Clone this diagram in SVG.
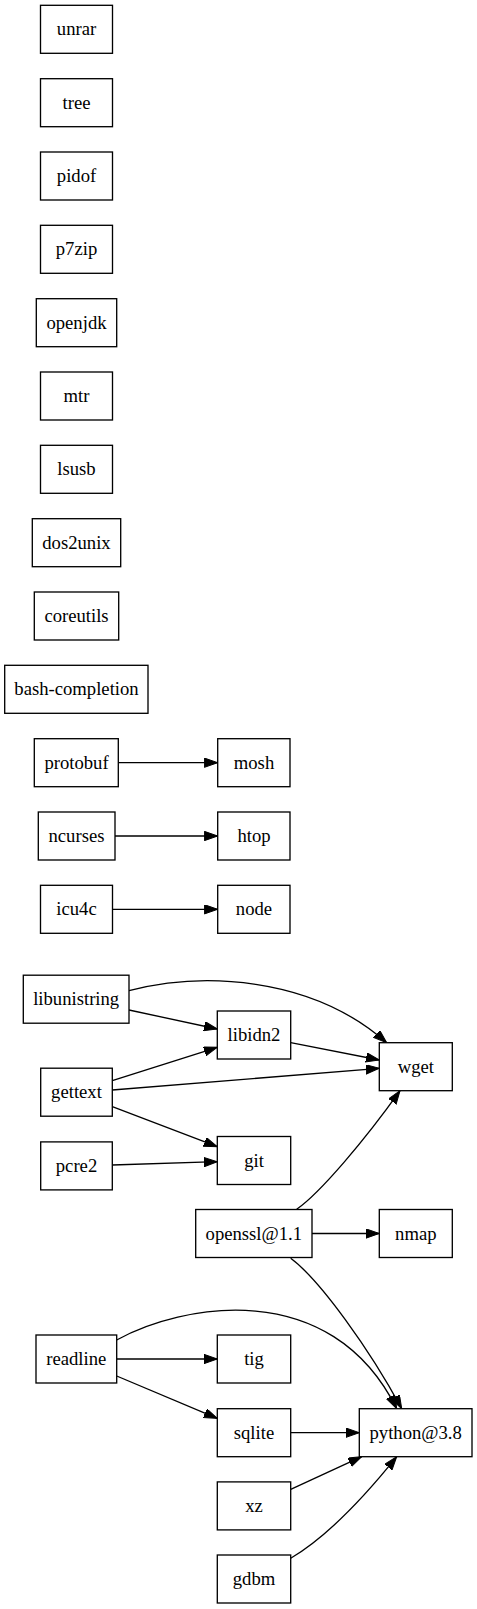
<svg xmlns="http://www.w3.org/2000/svg" width="477" height="1609" viewBox="0 0 477 1609">
<style>
.n rect{fill:#fff;stroke:#000;stroke-width:1.33}
.n text{font-family:'Liberation Serif','DejaVu Serif',serif;font-size:18.67px;text-anchor:middle;fill:#000}
#edges path{fill:none;stroke:#000;stroke-width:1.33;marker-end:url(#arr)}
</style>
<defs>
<marker id="arr" markerUnits="userSpaceOnUse" markerWidth="14" markerHeight="10" refX="13.33" refY="4.67" orient="auto">
<path d="M0,0 L13.33,4.67 L0,9.33 z" fill="#000" stroke="#000" stroke-width="1"/>
</marker>
</defs>
<rect width="477" height="1609" fill="#fff"/>
<g id="edges">
<path d="M118.3,762.7 L217.7,762.7"/>
<path d="M115,836 L217.7,836"/>
<path d="M112.3,909.3 L217.7,909.3"/>
<path d="M129,990.7 C200,972 310,975 386.7,1042.7"/>
<path d="M129,1010 L217.3,1029"/>
<path d="M290.7,1042.7 L379.3,1060"/>
<path d="M112.3,1080.7 L217.3,1047.3"/>
<path d="M112.3,1090 L379.3,1068.3"/>
<path d="M112.3,1106.7 L217.3,1146.7"/>
<path d="M112.3,1165 L217.3,1161.7"/>
<path d="M296.7,1209.3 C320,1193 365,1140 400,1090.7"/>
<path d="M312,1233.5 L379.3,1233.5"/>
<path d="M290.7,1258.3 C320,1280 370,1350 401.7,1408.7"/>
<path d="M116.7,1340 C180,1305 330,1275 396.7,1408.7"/>
<path d="M116.7,1359 L217.3,1359"/>
<path d="M116.7,1376 L217.3,1418.3"/>
<path d="M290.7,1432.7 L359.3,1432.7"/>
<path d="M290.7,1489.3 L361.7,1456.7"/>
<path d="M290.7,1558.3 C330,1535 370,1490 396.7,1456.7"/>
</g>
<g font-family="Liberation Serif, DejaVu Serif, serif">
<g id="unrar" class="n"><rect x="40.5" y="5.3" width="72" height="48"/><text x="76.5" y="35.3">unrar</text></g>
<g id="tree" class="n"><rect x="40.5" y="78.7" width="72" height="48"/><text x="76.5" y="108.7">tree</text></g>
<g id="pidof" class="n"><rect x="40.5" y="152" width="72" height="48"/><text x="76.5" y="182">pidof</text></g>
<g id="p7zip" class="n"><rect x="40.5" y="225.3" width="72" height="48"/><text x="76.5" y="255.3">p7zip</text></g>
<g id="openjdk" class="n"><rect x="36.3" y="298.7" width="80.4" height="48"/><text x="76.5" y="328.7">openjdk</text></g>
<g id="mtr" class="n"><rect x="40.5" y="372" width="72" height="48"/><text x="76.5" y="402">mtr</text></g>
<g id="lsusb" class="n"><rect x="40.5" y="445.3" width="72" height="48"/><text x="76.5" y="475.3">lsusb</text></g>
<g id="dos2unix" class="n"><rect x="32.3" y="518.7" width="88.4" height="48"/><text x="76.5" y="548.7">dos2unix</text></g>
<g id="coreutils" class="n"><rect x="34.3" y="592" width="84.4" height="48"/><text x="76.5" y="622">coreutils</text></g>
<g id="bash-completion" class="n"><rect x="4.7" y="665.3" width="143.3" height="48"/><text x="76.5" y="695.3">bash-completion</text></g>
<g id="protobuf" class="n"><rect x="34.3" y="738.7" width="84" height="48"/><text x="76.5" y="768.7">protobuf</text></g>
<g id="mosh" class="n"><rect x="217.7" y="738.7" width="72.3" height="48"/><text x="254" y="768.7">mosh</text></g>
<g id="ncurses" class="n"><rect x="38.3" y="812" width="76.7" height="48"/><text x="76.5" y="842">ncurses</text></g>
<g id="htop" class="n"><rect x="217.7" y="812" width="72.3" height="48"/><text x="254" y="842">htop</text></g>
<g id="icu4c" class="n"><rect x="40.5" y="885.3" width="72" height="48"/><text x="76.5" y="915.3">icu4c</text></g>
<g id="node" class="n"><rect x="217.7" y="885.3" width="72.3" height="48"/><text x="254" y="915.3">node</text></g>
<g id="libunistring" class="n"><rect x="23.3" y="975.2" width="105.7" height="48"/><text x="76.2" y="1005.2">libunistring</text></g>
<g id="libidn2" class="n"><rect x="217.3" y="1011" width="73.4" height="48"/><text x="254" y="1041">libidn2</text></g>
<g id="wget" class="n"><rect x="379.3" y="1042.7" width="73" height="48"/><text x="415.8" y="1072.7">wget</text></g>
<g id="gettext" class="n"><rect x="40.7" y="1068.2" width="71.6" height="48"/><text x="76.5" y="1098.2">gettext</text></g>
<g id="pcre2" class="n"><rect x="40.7" y="1141.9" width="71.6" height="48"/><text x="76.5" y="1171.9">pcre2</text></g>
<g id="git" class="n"><rect x="217.3" y="1136.5" width="73.4" height="48"/><text x="254" y="1166.5">git</text></g>
<g id="openssl" class="n"><rect x="195.7" y="1209.5" width="116.3" height="48"/><text x="253.8" y="1239.5">openssl@1.1</text></g>
<g id="nmap" class="n"><rect x="379.3" y="1209.5" width="73" height="48"/><text x="415.8" y="1239.5">nmap</text></g>
<g id="readline" class="n"><rect x="36" y="1335" width="80.7" height="48"/><text x="76.3" y="1365">readline</text></g>
<g id="tig" class="n"><rect x="217.3" y="1335" width="73.4" height="48"/><text x="254" y="1365">tig</text></g>
<g id="sqlite" class="n"><rect x="217.3" y="1408.7" width="73.4" height="48"/><text x="254" y="1438.7">sqlite</text></g>
<g id="python" class="n"><rect x="359.3" y="1408.7" width="112.7" height="48"/><text x="415.7" y="1438.7">python@3.8</text></g>
<g id="xz" class="n"><rect x="217.3" y="1481.9" width="73.4" height="48"/><text x="254" y="1511.9">xz</text></g>
<g id="gdbm" class="n"><rect x="217.3" y="1555" width="73.4" height="48"/><text x="254" y="1585">gdbm</text></g>
</g>
</svg>
